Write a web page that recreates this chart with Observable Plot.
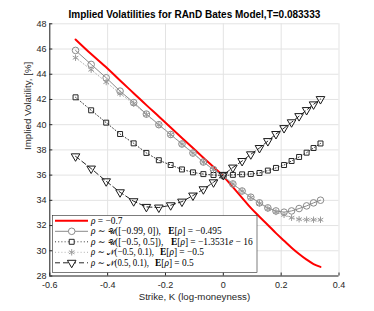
<!DOCTYPE html>
<html><head><meta charset="utf-8">
<script src="https://cdn.jsdelivr.net/npm/d3@7"></script>
<script src="https://cdn.jsdelivr.net/npm/@observablehq/plot@0.6"></script>
<style>html,body{margin:0;padding:0;background:#fff}svg{display:block}</style>
</head><body><div id="chart"></div>
<script>
// log-moneyness strikes
const logMoneyness = [-0.511, -0.457, -0.405, -0.357, -0.310, -0.266, -0.223, -0.182, -0.143, -0.105, -0.069, -0.034, 0, 0.033, 0.065, 0.095, 0.125, 0.154, 0.182, 0.210, 0.236, 0.262, 0.288, 0.312, 0.336];
// rho = -0.7
const ivRhoFixed = [46.76, 45.6, 44.55, 43.5, 42.5, 41.55, 40.65, 39.78, 38.95, 38.15, 37.38, 36.65, 35.9, 35.05, 34.2, 33.4, 32.7, 32.05, 31.4, 30.8, 30.25, 29.75, 29.3, 28.95, 28.72];
// rho ~ U([-0.99,0])
const ivUniformNeg = [45.89, 44.78, 43.72, 42.66, 41.75, 40.84, 40.0, 39.22, 38.47, 37.75, 37.04, 36.44, 35.93, 35.30, 34.74, 34.25, 33.80, 33.40, 33.16, 33.06, 33.16, 33.35, 33.56, 33.80, 34.01];
// rho ~ U([-0.5,0.5])
const ivUniformSym = [42.17, 41.14, 40.16, 39.26, 38.52, 37.76, 37.18, 36.80, 36.45, 36.22, 36.08, 36.01, 35.97, 36.02, 36.06, 36.09, 36.17, 36.36, 36.57, 36.80, 37.12, 37.44, 37.78, 38.15, 38.51];
// rho ~ N(-0.5,0.1)
const ivNormalNeg = [45.31, 44.36, 43.38, 42.46, 41.67, 40.80, 39.98, 39.21, 38.46, 37.74, 37.03, 36.43, 35.93, 35.30, 34.73, 34.22, 33.76, 33.35, 33.08, 32.85, 32.62, 32.50, 32.47, 32.46, 32.46];
// rho ~ N(0.5,0.1)
const ivNormalPos = [37.49, 36.52, 35.51, 34.64, 33.93, 33.48, 33.43, 33.61, 33.90, 34.38, 34.88, 35.43, 36.02, 36.60, 37.12, 37.65, 38.15, 38.70, 39.26, 39.73, 40.19, 40.68, 41.16, 41.61, 42.03];

const xTicks = [-0.6, -0.4, -0.2, 0, 0.2, 0.4];
const yTicks = [28, 30, 32, 34, 36, 38, 40, 42, 44, 46, 48];
const titleText = "Implied Volatilities for RAnD Bates Model,T=0.083333";
const xLabel = "Strike, K (log-moneyness)";
const yLabel = "Implied Volatility, [%]";

const rows = ys => logMoneyness.map((x, i) => ({x, y: ys[i]}));
const axisColor = "#262626";
const gridColor = "#e3e3e3";

const styles = {
  red: {stroke: "#ff0000", strokeWidth: 2},
  circ: {stroke: "#8a8a8a", dash: null, sym: "circle", r: 3.3, symStroke: "#8a8a8a"},
  sq: {stroke: "#3a3a3a", dash: "1,2.2", sym: "square", r: 2.8, symStroke: "#262626"},
  star: {stroke: "#b0b0b0", dash: "1,2.2", sym: "asterisk", r: 3, symStroke: "#9a9a9a"},
  tri: {stroke: "#262626", dash: "5,3", sym: "triangle", r: 3.2, symStroke: "#1a1a1a", rotate: 180}
};

function series(ys, s) {
  const d = rows(ys);
  return [
    Plot.line(d, {x: "x", y: "y", stroke: s.stroke, strokeWidth: 1, strokeDasharray: s.dash || undefined}),
    Plot.dot(d, {x: "x", y: "y", symbol: s.sym, r: s.r, stroke: s.symStroke, fill: "none", strokeWidth: 1, rotate: s.rotate || 0})
  ];
}

const chart = Plot.plot({
  width: 374, height: 311,
  marginLeft: 49.3, marginRight: 35.5, marginTop: 23.3, marginBottom: 35.5,
  style: {fontFamily: "'Liberation Sans', Arial, sans-serif", fontSize: "9px", color: axisColor, background: "#fff", overflow: "visible"},
  x: {domain: [-0.6, 0.4]},
  y: {domain: [28, 48]},
  marks: [
    Plot.gridX(xTicks, {stroke: gridColor, strokeOpacity: 1}),
    Plot.gridY(yTicks, {stroke: gridColor, strokeOpacity: 1}),
    Plot.ruleY([28], {stroke: axisColor}),
    Plot.ruleX([-0.6], {stroke: axisColor}),
    Plot.axisX(xTicks, {tickSize: -3, tickPadding: 8.5, tickFormat: d => d === 0 ? "0" : String(d), label: null, stroke: axisColor, fill: axisColor}),
    Plot.axisY(yTicks, {tickSize: -3, tickPadding: 6.3, label: null, stroke: axisColor, fill: axisColor}),
    Plot.line(rows(ivRhoFixed), {x: "x", y: "y", stroke: styles.red.stroke, strokeWidth: 2, curve: "catmull-rom"}),
    ...series(ivUniformNeg, styles.circ),
    ...series(ivUniformSym, styles.sq),
    ...series(ivNormalNeg, styles.star),
    ...series(ivNormalPos, styles.tri),
    Plot.text([titleText], {frameAnchor: "top", dy: -9, fontWeight: "bold", fontSize: 10, fill: "#000", lineAnchor: "middle"}),
    Plot.text([xLabel], {frameAnchor: "bottom", dy: 21, fontSize: 9.7, fill: axisColor, lineAnchor: "middle"}),
    Plot.text([yLabel], {frameAnchor: "left", dx: -22, rotate: -90, fontSize: 9.7, fill: axisColor, lineAnchor: "middle"})
  ]
});
document.getElementById("chart").appendChild(chart);

// Legend
const legendEntries = [
  {key: "red", parts: [["ρ", "i"], [" = −0.7"]], eParts: null},
  {key: "circ", parts: [["ρ", "i"], [" ∼ "], ["𝒰", "s"], ["([−0.99, 0]),"]], ex: 168.3, eParts: [["E", "b"], ["["], ["ρ", "i"], ["] = −0.495"]]},
  {key: "sq", parts: [["ρ", "i"], [" ∼ "], ["𝒰", "s"], ["([−0.5, 0.5]),"]], ex: 171, eParts: [["E", "b"], ["["], ["ρ", "i"], ["] = −1.3531"], ["e", "i"], [" − 16"]]},
  {key: "star", parts: [["ρ", "i"], [" ∼ "], ["𝒩", "s"], ["(−0.5, 0.1),"]], ex: 160, eParts: [["E", "b"], ["["], ["ρ", "i"], ["] = −0.5"]]},
  {key: "tri", parts: [["ρ", "i"], [" ∼ "], ["𝒩", "s"], ["(0.5, 0.1),"]], ex: 155, eParts: [["E", "b"], ["["], ["ρ", "i"], ["] = 0.5"]]}
];
const svg = d3.select(chart);
const lg = svg.append("g").attr("class", "legend").attr("text-anchor", "start");
lg.append("rect").attr("x", 52.5).attr("y", 215.5).attr("width", 204.5).attr("height", 57)
  .attr("fill", "#fff").attr("stroke", axisColor).attr("stroke-width", 0.6);
const rowY0 = 220.8, rowDy = 10.5;
function addText(g, x, y, parts, maxWidth) {
  const t = g.append("text").attr("x", x).attr("y", y).attr("dy", "0.34em")
    .attr("text-anchor", "start")
    .attr("font-family", "'Liberation Serif', 'DejaVu Serif', serif").attr("font-size", 9.4)
    .attr("fill", "#000").style("white-space", "pre");
  parts.forEach(([s, f]) => {
    const ts = t.append("tspan").text(s);
    if (f === "i") ts.attr("font-style", "italic");
    if (f === "b") ts.attr("font-weight", "bold");
    if (f === "s") ts.attr("font-size", 8);
  });
  if (maxWidth) {
    const w = t.node().getComputedTextLength();
    if (w > maxWidth) t.attr("textLength", maxWidth).attr("lengthAdjust", "spacingAndGlyphs");
  }
}
legendEntries.forEach((e, i) => {
  const y = rowY0 + i * rowDy;
  const s = styles[e.key];
  const g = lg.append("g");
  if (e.key === "red") {
    g.append("line").attr("x1", 55).attr("x2", 88).attr("y1", y).attr("y2", y)
      .attr("stroke", s.stroke).attr("stroke-width", 2);
  } else {
    g.append("line").attr("x1", 55).attr("x2", 88).attr("y1", y).attr("y2", y)
      .attr("stroke", s.stroke).attr("stroke-width", 1).attr("stroke-dasharray", s.dash);
    const symType = {circle: d3.symbolCircle, square: d3.symbolSquare, asterisk: d3.symbolAsterisk, triangle: d3.symbolTriangle}[s.sym];
    g.append("path").attr("d", d3.symbol(symType, Math.PI * s.r * s.r)())
      .attr("transform", `translate(71.7,${y}) rotate(${s.rotate || 0})`)
      .attr("fill", "#fff").attr("stroke", s.symStroke).attr("stroke-width", 1);
  }
  addText(g, 91, y, e.parts, e.eParts ? e.ex - 91 - 6 : null);
  if (e.eParts) addText(g, e.ex, y, e.eParts, 254 - e.ex);
});
</script></body></html>
